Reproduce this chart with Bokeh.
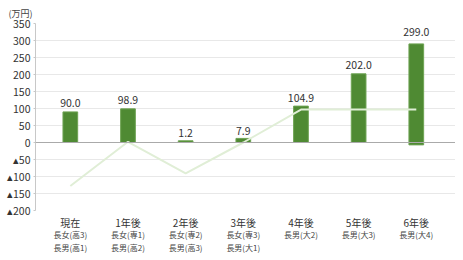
from bokeh.plotting import figure
from bokeh.models import FixedTicker, LinearAxis, Span, ColumnDataSource
from bokeh.core.properties import value
from bokeh.embed import file_html
from bokeh.resources import INLINE

categories = ["現在", "1年後", "2年後", "3年後", "4年後", "5年後", "6年後"]
sub_labels = ["長女(高3)\n長男(高1)", "長女(専1)\n長男(高2)", "長女(専2)\n長男(高3)",
              "長女(専3)\n長男(大1)", "長男(大2)", "長男(大3)", "長男(大4)"]
value_labels = [90.0, 98.9, 1.2, 7.9, 104.9, 202.0, 299.0]
bar_top = [90.0, 98.9, 5.0, 12.0, 107.0, 202.0, 290.0]
bar_base = [0, 0, 0, 0, 0, 0, -7]
line_values = [-128, 2, -91, 0, 97, 97, 97]
y_ticks = [-200, -150, -100, -50, 0, 50, 100, 150, 200, 250, 300, 350]

xs = list(range(len(categories)))
FONT = "Noto Sans CJK JP"

p = figure(frame_width=420, frame_height=187, output_backend="svg", toolbar_location=None,
           x_range=(-0.604, 6.68), y_range=(-200, 350),
           min_border_left=35, min_border_right=0, min_border_top=0, min_border_bottom=43,
           title="(万円)")
p.outline_line_color = None
p.title.text_font = FONT
p.title.text_font_size = "9px"
p.title.text_font_style = "normal"
p.title.text_color = "#444444"
p.title.align = "left"
p.title.offset = -27
p.title.standoff = 8

p.xgrid.grid_line_color = None
p.ygrid.grid_line_color = "#e8e8e8"
p.ygrid.ticker = FixedTicker(ticks=y_ticks)

p.yaxis.ticker = FixedTicker(ticks=y_ticks)
p.yaxis.major_label_overrides = {t: ("▴" + str(-t) if t < 0 else str(t)) for t in y_ticks}
p.yaxis.axis_line_color = "#c8c8c8"
p.yaxis.major_tick_line_color = "#c8c8c8"
p.yaxis.major_tick_out = 2
p.yaxis.major_tick_in = 0
p.yaxis.minor_tick_line_color = None
p.yaxis.minor_tick_out = 0
p.yaxis.major_label_text_font = FONT
p.yaxis.major_label_text_font_size = "10.5px"
p.yaxis.major_label_text_color = "#333333"
p.yaxis.major_label_standoff = 3

p.xaxis.ticker = FixedTicker(ticks=xs)
p.xaxis.major_label_overrides = {i: c for i, c in zip(xs, categories)}
p.xaxis.axis_line_color = None
p.xaxis.major_tick_line_color = None
p.xaxis.minor_tick_line_color = None
p.xaxis.major_tick_out = 0
p.xaxis.minor_tick_out = 0
p.xaxis.major_label_text_font = FONT
p.xaxis.major_label_text_font_size = "10px"
p.xaxis.major_label_text_color = "#333333"
p.xaxis.major_label_standoff = 4

ax2 = LinearAxis(ticker=FixedTicker(ticks=xs),
                 major_label_overrides={i: s for i, s in zip(xs, sub_labels)})
ax2.axis_line_color = None
ax2.major_tick_line_color = None
ax2.minor_tick_line_color = None
ax2.major_tick_out = 0
ax2.minor_tick_out = 0
ax2.major_label_text_font = FONT
ax2.major_label_text_font_size = "8px"
ax2.major_label_text_color = "#444444"
ax2.major_label_standoff = -4
p.add_layout(ax2, "below")

p.add_layout(Span(location=0, dimension="width", line_color="#aaaaaa", line_width=1))

src = ColumnDataSource(dict(x=xs, top=bar_top, bottom=bar_base, lbl_y=value_labels,
                            lbl=[f"{v:.1f}" for v in value_labels], line=line_values))
p.vbar(x="x", top="top", bottom="bottom", width=0.255, source=src,
       fill_color="#4f8a33", line_color="#6ea353", line_width=1)
p.line(x="x", y="line", source=src, line_color="#e0eed6", line_width=2)
p.text(x="x", y="lbl_y", text="lbl", source=src, text_align="center", text_baseline="bottom",
       y_offset=-5, text_font=value(FONT), text_font_size="10.5px", text_color="#333333")

open("out.html", "w").write(file_html(p, INLINE))
